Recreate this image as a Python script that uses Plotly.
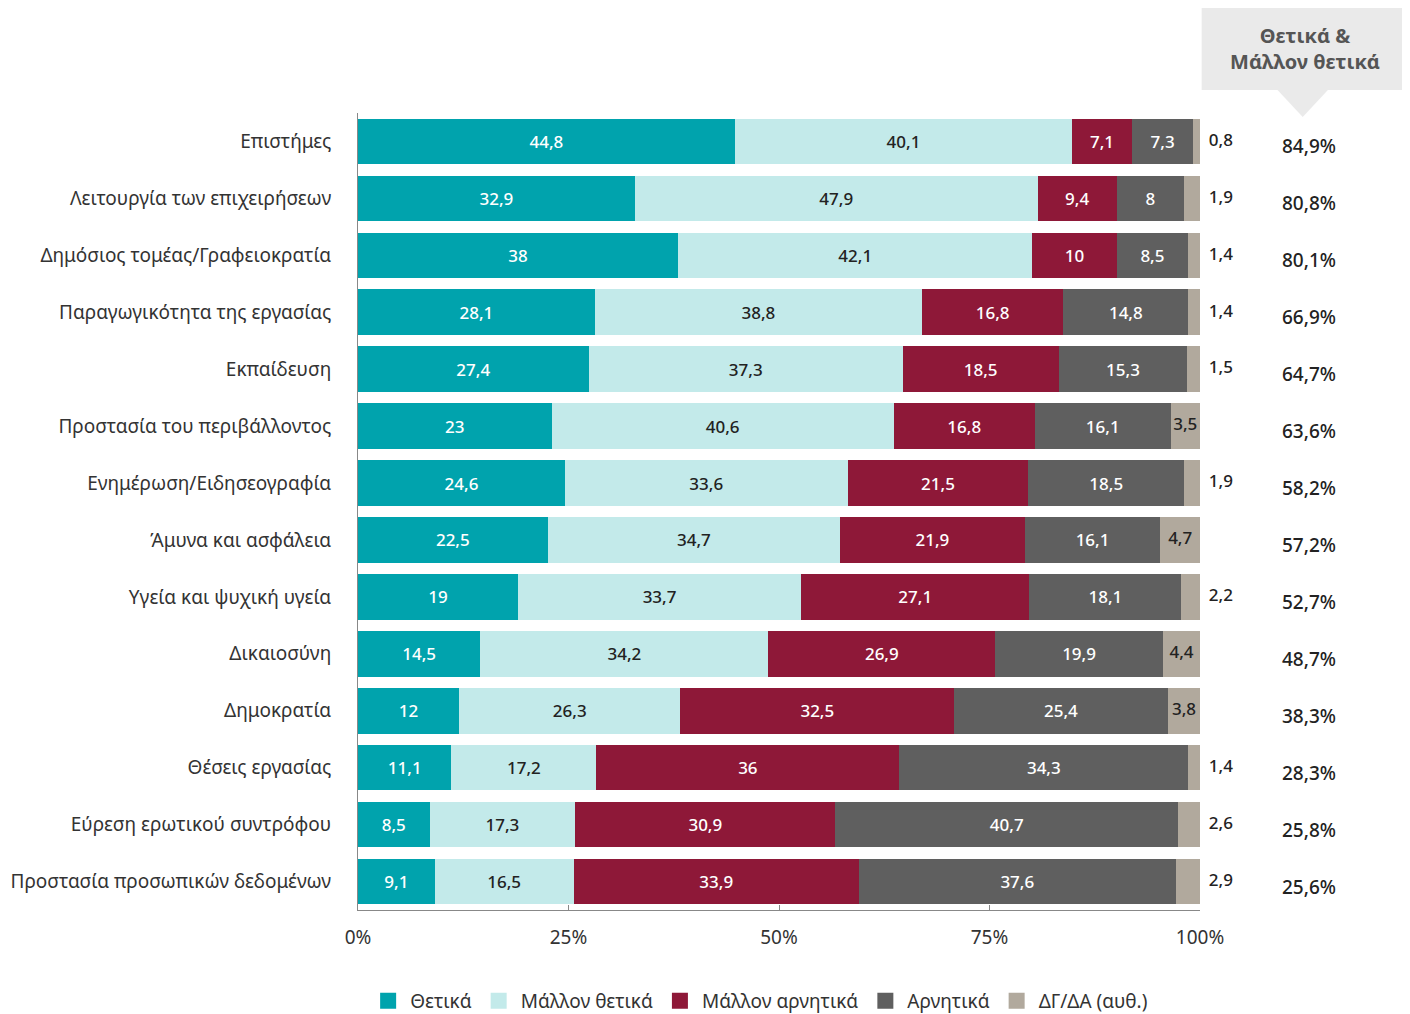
import plotly.graph_objects as go

categories = ['Επιστήμες', 'Λειτουργία των επιχειρήσεων', 'Δημόσιος τομέας/Γραφειοκρατία',
              'Παραγωγικότητα της εργασίας', 'Εκπαίδευση', 'Προστασία του περιβάλλοντος',
              'Ενημέρωση/Ειδησεογραφία', 'Άμυνα και ασφάλεια', 'Υγεία και ψυχική υγεία',
              'Δικαιοσύνη', 'Δημοκρατία', 'Θέσεις εργασίας', 'Εύρεση ερωτικού συντρόφου',
              'Προστασία προσωπικών δεδομένων']

positive = [44.8, 32.9, 38, 28.1, 27.4, 23, 24.6, 22.5, 19, 14.5, 12, 11.1, 8.5, 9.1]
rather_positive = [40.1, 47.9, 42.1, 38.8, 37.3, 40.6, 33.6, 34.7, 33.7, 34.2, 26.3, 17.2, 17.3, 16.5]
rather_negative = [7.1, 9.4, 10, 16.8, 18.5, 16.8, 21.5, 21.9, 27.1, 26.9, 32.5, 36, 30.9, 33.9]
negative = [7.3, 8, 8.5, 14.8, 15.3, 16.1, 18.5, 16.1, 18.1, 19.9, 25.4, 34.3, 40.7, 37.6]
dk_na = [0.8, 1.9, 1.4, 1.4, 1.5, 3.5, 1.9, 4.7, 2.2, 4.4, 3.8, 1.4, 2.6, 2.9]

series = [('Θετικά', positive, '#00A3AD', 'white'),
          ('Μάλλον θετικά', rather_positive, '#C3EAEA', '#222222'),
          ('Μάλλον αρνητικά', rather_negative, '#8E1838', 'white'),
          ('Αρνητικά', negative, '#5F5F5F', 'white'),
          ('ΔΓ/ΔΑ (αυθ.)', dk_na, '#B1A99D', '#222222')]

FONT = 'Noto Sans'
INSIDE_MIN = 3.5  # smaller ΔΓ/ΔΑ values are written next to the bar


def fmt(v):
    return ('%g' % v).replace('.', ',')


fig = go.Figure()
for name, vals, color, text_color in series:
    is_dk = name.startswith('ΔΓ')
    fig.add_trace(go.Bar(y=categories, x=vals, name=name, orientation='h',
                         marker=dict(color=color, line_width=0),
                         text=None if is_dk else [fmt(v) for v in vals],
                         textposition='inside', insidetextanchor='middle',
                         constraintext='none',
                         textfont=dict(color=text_color, size=17, family=FONT, weight=500),
                         textangle=0, showlegend=False))
    # legend entry with a bigger square swatch
    fig.add_trace(go.Scatter(x=[None], y=[None], mode='markers', name=name,
                             marker=dict(symbol='square', size=18, color=color)))

# ΔΓ/ΔΑ labels: inside the segment when wide enough, otherwise right of the bar
totals = [sum(t) for t in zip(positive, rather_positive, rather_negative, negative, dk_na)]
in_cats = [c for c, v in zip(categories, dk_na) if v >= INSIDE_MIN]
in_x = [100 - v / t * 50 for v, t in zip(dk_na, totals) if v >= INSIDE_MIN]
in_txt = [fmt(v) for v in dk_na if v >= INSIDE_MIN]
out_cats = [c for c, v in zip(categories, dk_na) if v < INSIDE_MIN]
out_txt = [fmt(v) for v in dk_na if v < INSIDE_MIN]
fig.add_trace(go.Scatter(y=in_cats, x=in_x, mode='text', text=in_txt,
                         textposition='middle center',
                         textfont=dict(size=17, color='#222222', family=FONT, weight=500),
                         showlegend=False, cliponaxis=False, hoverinfo='skip'))
fig.add_trace(go.Scatter(y=out_cats, x=[100] * len(out_cats), mode='text',
                         text=['  ' + t for t in out_txt], textposition='middle right',
                         textfont=dict(size=17, color='#222222', family=FONT, weight=500),
                         showlegend=False, cliponaxis=False, hoverinfo='skip'))

# right column: positive + rather positive
for cat, p, rp in zip(categories, positive, rather_positive):
    fig.add_annotation(x=1.129, xref='paper', y=cat, yref='y', yshift=-5,
                       xanchor='center', yanchor='middle',
                       text=fmt(round(p + rp, 1)) + '%', showarrow=False,
                       font=dict(size=19, color='#222222', family=FONT, weight=500))

# header box with pointer
fig.add_shape(type='rect', xref='paper', yref='paper', x0=1.002, x1=1.246, y0=1.029, y1=1.134,
              fillcolor='#EAEAEA', line_width=0, layer='below')
fig.add_shape(type='path', xref='paper', yref='paper',
              path='M 1.091 1.03 L 1.153 1.03 L 1.122 0.995 Z',
              fillcolor='#EAEAEA', line_width=0, layer='below')
fig.add_annotation(x=1.125, xref='paper', y=1.081, yref='paper', showarrow=False,
                   xanchor='center', yanchor='middle',
                   text='<b>Θετικά &amp;<br>Μάλλον θετικά</b>',
                   font=dict(size=20, color='#555555', family=FONT), align='center')

fig.update_layout(barmode='stack', barnorm='percent', bargap=0.2,
                  width=1402, height=1006, plot_bgcolor='white', paper_bgcolor='white',
                  margin=dict(l=350, r=210, t=105, b=104, autoexpand=False),
                  font=dict(family=FONT, color='#222222'),
                  legend=dict(orientation='h', x=0.477, xanchor='center',
                              yref='container', y=0.013, yanchor='middle',
                              itemsizing='trace', itemwidth=34,
                              font=dict(size=19, color='#333333'), traceorder='normal'))

fig.update_xaxes(range=[0, 100], tickvals=[0, 25, 50, 75, 100],
                 ticktext=['0%', '25%', '50%', '75%', '100%'],
                 showline=True, linecolor='#888888', linewidth=1,
                 ticks='inside', ticklen=5, tickcolor='#888888',
                 showgrid=False, zeroline=False, automargin=False, ticklabelstandoff=10,
                 tickfont=dict(size=19, color='#333333'))
fig.update_yaxes(type='category', categoryorder='array', categoryarray=categories,
                 range=[len(categories) - 0.5, -0.5],
                 showline=True, linecolor='#888888', linewidth=1,
                 showgrid=False, ticks='', ticklabelstandoff=22, automargin=False,
                 tickfont=dict(size=19, color='#333333'))

fig.write_html('out.html')
